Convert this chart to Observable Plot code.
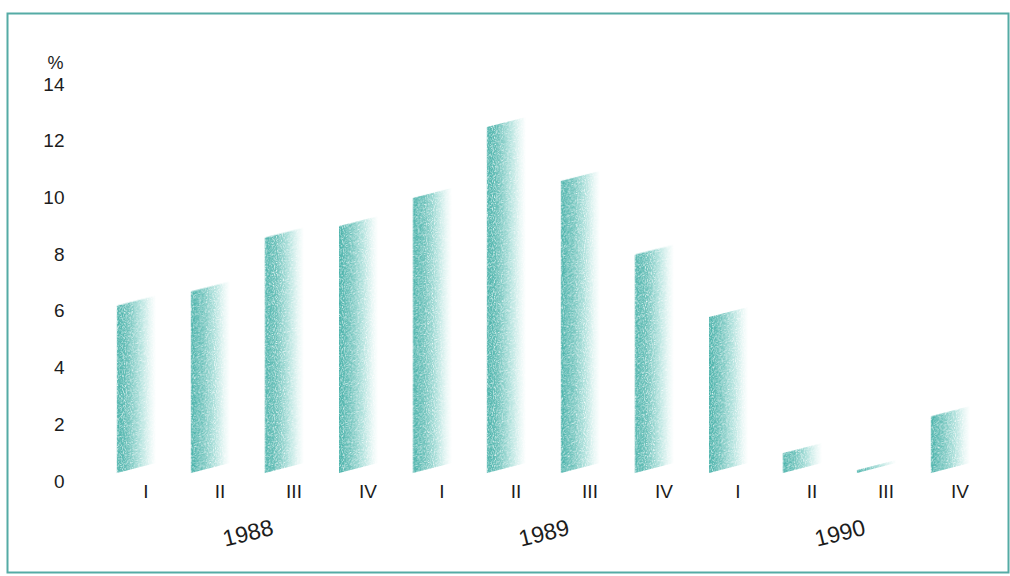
<!DOCTYPE html>
<html>
<head>
<meta charset="utf-8">
<script src="https://cdn.jsdelivr.net/npm/d3@7"></script>
<script src="https://cdn.jsdelivr.net/npm/@observablehq/plot@0.6"></script>
<style>
  html, body { margin: 0; padding: 0; background: #fff; }
  #chart svg { display: block; }
</style>
</head>
<body>
<div id="chart"></div>
<script>
// Quarterly growth rate, %, 1988–1990
const years = ["1988", "1989", "1990"];
const quarters = ["I", "II", "III", "IV"];
const growth = [5.9, 6.4, 8.3, 8.7, 9.7, 12.2, 10.3, 7.7, 5.5, 0.7, 0.1, 2.0];
const yTicks = [0, 2, 4, 6, 8, 10, 12, 14];

const periods = years.flatMap(y => quarters.map(q => `${y} ${q}`));
const rows = periods.map((p, i) => ({period: p, value: growth[i]}));

const teal = "#55aba5";
const ink = "#1c1c1c";

const chart = Plot.plot({
  width: 1010,
  height: 576,
  marginLeft: 66,
  marginRight: 25,
  marginTop: 84,
  marginBottom: 95,
  style: {fontFamily: "'Liberation Sans', Arial, Helvetica, sans-serif", fontSize: "19px", color: ink, background: "#fff"},
  x: {domain: periods, range: [102, 985], paddingInner: 0.47, paddingOuter: 0.2, axis: null},
  y: {domain: [0, 14], axis: null},
  marks: [
    Plot.axisY({ticks: yTicks, tickSize: 0, tickPadding: 2, label: null, fontSize: 19}),
    Plot.axisX({tickSize: 0, tickPadding: 3, dx: 9, label: null, fontSize: 19,
      tickFormat: p => p.split(" ")[1]}),
    Plot.barY(rows, {x: "period", y: "value", fill: "url(#barGrad)", dy: -8}),
    // year captions, centred between the II and III quarters
    Plot.text(years, {x: y => `${y} II`, y: () => 0, text: d => d, dx: 37, dy: 52,
      rotate: -14, fontSize: 23, fill: ink}),
    Plot.text(["%"], {frameAnchor: "top-left", text: d => d, textAnchor: "end",
      dx: -3, dy: -28, fontSize: 18, fill: ink})
  ]
});

const svg = d3.select(chart);

// gradient fill for the bars: saturated teal on the left, fading to white
const defs = svg.insert("defs", ":first-child");
const grad = defs.append("linearGradient").attr("id", "barGrad")
  .attr("x1", 0).attr("x2", 1).attr("y1", 0).attr("y2", 0);
[[0, "#45b0a8"], [0.3, "#6ec2bb"], [0.6, "#ade0db"], [0.85, "#e6f6f4"], [1, "#ffffff"]]
  .forEach(([o, c]) => grad.append("stop").attr("offset", o).attr("stop-color", c));

// fine print-like grain on the bar fill
const grain = defs.append("filter").attr("id", "grain")
  .attr("x", "-5%").attr("y", "-5%").attr("width", "110%").attr("height", "110%");
grain.append("feTurbulence").attr("type", "fractalNoise")
  .attr("baseFrequency", 0.9).attr("numOctaves", 2).attr("seed", 3).attr("result", "noise");
grain.append("feColorMatrix").attr("in", "noise").attr("type", "matrix")
  .attr("values", "0 0 0 0 0  0 0 0 0 0  0 0 0 0 0  2.2 0 0 0 -0.25").attr("result", "mask");
grain.append("feComposite").attr("in", "SourceGraphic").attr("in2", "mask").attr("operator", "in");

// slant each bar: keep the left edge, lift the right edge
svg.selectAll("g[aria-label=bar] rect").each(function () {
  const r = d3.select(this);
  const x0 = +r.attr("x");
  const yb = +r.attr("y") + +r.attr("height");
  r.attr("transform", `translate(${x0},${yb}) skewY(-14.4) translate(${-x0},${-yb})`)
   .attr("filter", "url(#grain)");
});

// outer frame
svg.append("rect")
  .attr("x", 7.5).attr("y", 13.5).attr("width", 1001).attr("height", 559)
  .attr("fill", "none").attr("stroke", teal).attr("stroke-width", 2);

document.getElementById("chart").appendChild(chart);
</script>
</body>
</html>
